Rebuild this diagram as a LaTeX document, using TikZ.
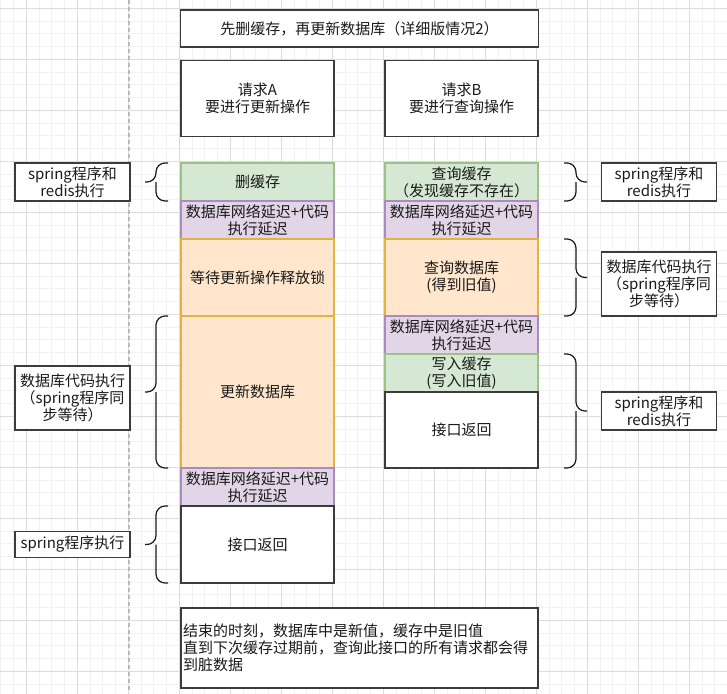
\documentclass[tikz,border=0pt]{standalone}
\usepackage{fontspec}
\setmainfont{Noto Sans CJK SC}
\usepackage{xcolor}
\usetikzlibrary{positioning}
\definecolor{ink}{HTML}{1A1A1A}
\definecolor{frame}{HTML}{3C3C3C}
\definecolor{gridfine}{HTML}{F2F2F2}
\definecolor{gridbold}{HTML}{DCDCDC}
\definecolor{cachefill}{HTML}{D5E8D4}
\definecolor{cacheline}{HTML}{9DC286}
\definecolor{delayfill}{HTML}{E1D5E7}
\definecolor{delayline}{HTML}{A98CBB}
\definecolor{dbfill}{HTML}{FFE6CC}
\definecolor{dbline}{HTML}{E3B341}

\begin{document}
\begin{tikzpicture}[
  x=1pt, y=-1pt,
  every node/.style={font=\fontsize{15}{17}\selectfont, text=ink},
  block/.style={draw=frame, line width=1.3pt, fill=white, align=center,
                minimum width=153pt, inner xsep=1pt, inner ysep=0pt,
                outer sep=0pt},
  cachebox/.style={block, draw=cacheline, fill=cachefill, minimum height=38pt},
  delaybox/.style={block, draw=delayline, fill=delayfill, minimum height=38pt},
  dbbox/.style={block, draw=dbline, fill=dbfill},
  note/.style={draw=frame, line width=1.3pt, fill=white, align=center,
               minimum width=115pt, inner xsep=1pt, inner ysep=0pt},
  bracket/.style={draw=ink, line width=1.2pt, rounded corners=9pt}
]
\useasboundingbox (0,0) rectangle (727,693);
\fill[white] (0,0) rectangle (727,693);
\clip (0,0) rectangle (727,693);
% background grid
\begin{scope}[xshift=0.8pt, yshift=-8.3pt]
  \draw[gridfine, line width=0.8pt, step=12.75pt] (-20,-20) grid (740,700);
\end{scope}
\begin{scope}[xshift=26.3pt, yshift=-8.3pt]
  \draw[gridbold, line width=0.8pt, step=51pt] (-60,-60) grid (760,720);
\end{scope}
\draw[gray!55, line width=1.3pt, dash pattern=on 4pt off 3pt] (129,0) -- (129,693);

% title and requests
\node[block, minimum width=358pt, minimum height=37pt] (title) at (359.5,28.5)
  {先删缓存，再更新数据库（详细版情况2）};
\node[block, minimum height=76pt] (reqA) at (257.5,98.5) {请求A\\要进行更新操作};
\node[block, minimum height=76pt] (reqB) at (461.5,98.5) {请求B\\要进行查询操作};

% request A column
\node[cachebox, anchor=north] (delA) at (257.5,163) {删缓存};
\node[delaybox, below=0pt of delA] (lagA1) {数据库网络延迟+代码\\执行延迟};
\node[dbbox, minimum height=77pt, below=0pt of lagA1] (waitA) {等待更新操作释放锁};
\node[dbbox, minimum height=152pt, below=0pt of waitA] (updA) {更新数据库};
\node[delaybox, below=0pt of updA] (lagA2) {数据库网络延迟+代码\\执行延迟};
\node[block, minimum height=77pt, below=0pt of lagA2] (retA) {接口返回};

% request B column
\node[cachebox, anchor=north] (readB) at (461.5,163) {查询缓存\\（发现缓存不存在）};
\node[delaybox, below=0pt of readB] (lagB1) {数据库网络延迟+代码\\执行延迟};
\node[dbbox, minimum height=77pt, below=0pt of lagB1] (queryB) {查询数据库\\(得到旧值)};
\node[delaybox, below=0pt of queryB] (lagB2) {数据库网络延迟+代码\\执行延迟};
\node[cachebox, below=0pt of lagB2] (writeB) {写入缓存\\(写入旧值)};
\node[block, minimum height=76pt, below=0pt of writeB] (retB) {接口返回};

% result
\node[block, minimum width=357pt, minimum height=80pt, align=left,
      text width=353pt] (result) at (359.5,648)
  {结束的时刻，数据库中是新值，缓存中是旧值\\
   直到下次缓存过期前，查询此接口的所有请求都会得\\到脏数据};

% left notes
\node[note, minimum height=38pt] (noteA1) at (72.5,182) {spring程序和\\redis执行};
\node[note, minimum height=64pt] (noteA2) at (72.5,398) {数据库代码执行\\（spring程序同\\步等待）};
\node[note, minimum height=26pt] (noteA3) at (72.5,544.5) {spring程序执行};

% right notes
\node[note, minimum height=38pt] (noteB1) at (659,182) {spring程序和\\redis执行};
\node[note, minimum height=64pt] (noteB2) at (659,284) {数据库代码执行\\（spring程序同\\步等待）};
\node[note, minimum height=38pt] (noteB3) at (659,411) {spring程序和\\redis执行};

% braces, left side
\draw[bracket] (168,163) -- (156,163) -- (156,182) -- (145,182);
\draw[bracket] (168,201) -- (156,201) -- (156,182);
\draw[bracket] (168,316) -- (156,316) -- (156,392) -- (145,392);
\draw[bracket] (168,468) -- (156,468) -- (156,392);
\draw[bracket] (168,506) -- (156,506) -- (156,544.5) -- (145,544.5);
\draw[bracket] (168,583) -- (156,583) -- (156,544.5);
% braces, right side
\draw[bracket] (564,163) -- (576,163) -- (576,182) -- (587,182);
\draw[bracket] (564,201) -- (576,201) -- (576,182);
\draw[bracket] (564,239) -- (576,239) -- (576,277.5) -- (587,277.5);
\draw[bracket] (564,316) -- (576,316) -- (576,277.5);
\draw[bracket] (564,354) -- (576,354) -- (576,411) -- (587,411);
\draw[bracket] (564,468) -- (576,468) -- (576,411);
\end{tikzpicture}
\end{document}
